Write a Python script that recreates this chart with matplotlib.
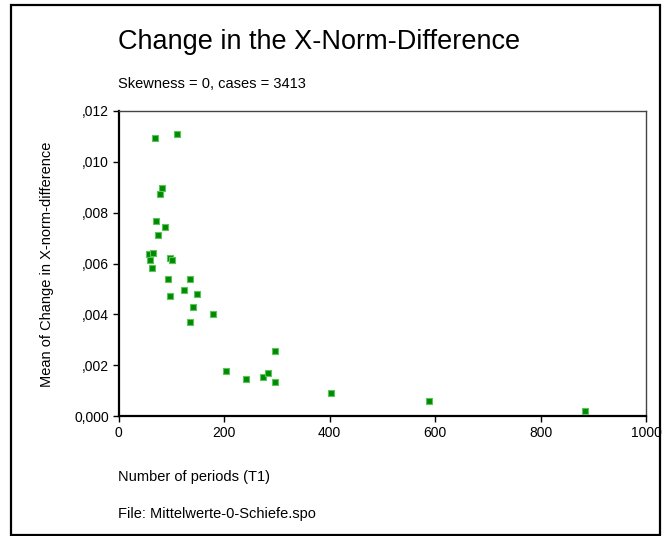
import matplotlib
matplotlib.use("Agg")
import matplotlib.pyplot as plt
from matplotlib.patches import Rectangle

plt.rcParams['font.family'] = ['Liberation Sans', 'DejaVu Sans']

periods = [69, 110, 82, 79, 71, 89, 74, 58, 66, 60, 63, 97, 102, 94, 136,
           124, 149, 97, 142, 179, 136, 296, 204, 241, 273, 283, 296,
           403, 589, 884]
mean_change = [0.01093, 0.01109, 0.00897, 0.00875, 0.00766, 0.00745, 0.00712,
               0.00637, 0.00642, 0.00615, 0.00581, 0.00620, 0.00615, 0.00538,
               0.00538, 0.00495, 0.00479, 0.00472, 0.00429, 0.00403, 0.00370,
               0.00255, 0.00179, 0.00147, 0.00153, 0.00169, 0.00135,
               0.00091, 0.00059, 0.00021]
x_ticks = [0, 200, 400, 600, 800, 1000]
y_ticks = [0.0, 0.002, 0.004, 0.006, 0.008, 0.010, 0.012]
y_tick_labels = ["0,000", ",002", ",004", ",006", ",008", ",010", ",012"]

W, H = 662, 536
fig = plt.figure(figsize=(W / 100, H / 100), dpi=100)
fig.patch.set_facecolor('white')

# outer frame
fig.patches.append(Rectangle((11 / W, 1 - 535 / H), (660 - 11) / W, (535 - 5) / H,
                             transform=fig.transFigure, fill=False,
                             edgecolor='black', linewidth=1.6))

ax = fig.add_axes([118.5 / W, 1 - 416 / H, (646 - 118.5) / W, (416 - 111) / H])
ax.scatter(periods, mean_change, marker='s', s=20, facecolor='#008a00',
           edgecolor='#5cc45c', linewidths=0.8, zorder=3)
ax.set_xlim(0, 1000)
ax.set_ylim(0, 0.012)
ax.set_xticks(x_ticks)
ax.set_xticklabels([str(t) for t in x_ticks])
ax.set_yticks(y_ticks)
ax.set_yticklabels(y_tick_labels)
ax.tick_params(direction='out', length=4, width=1, labelsize=10, pad=3,
               colors='black')
for s in ['left', 'bottom']:
    ax.spines[s].set_linewidth(1.6)
    ax.spines[s].set_color('black')
for s in ['top', 'right']:
    ax.spines[s].set_linewidth(1.0)
    ax.spines[s].set_color('#444444')

fig.text(118 / W, 1 - 42 / H, "Change in the X-Norm-Difference", fontsize=19.5,
         ha='left', va='center')
fig.text(118 / W, 1 - 84 / H, "Skewness = 0, cases = 3413", fontsize=10.5,
         ha='left', va='center')
fig.text(118 / W, 1 - 477 / H, "Number of periods (T1)", fontsize=10.5,
         ha='left', va='center')
fig.text(118 / W, 1 - 514 / H, "File: Mittelwerte-0-Schiefe.spo", fontsize=10.5,
         ha='left', va='center')
fig.text(47 / W, 1 - 264 / H, "Mean of Change in X-norm-difference", fontsize=10.5,
         ha='center', va='center', rotation=90)

fig.savefig("out.png", dpi=100)
